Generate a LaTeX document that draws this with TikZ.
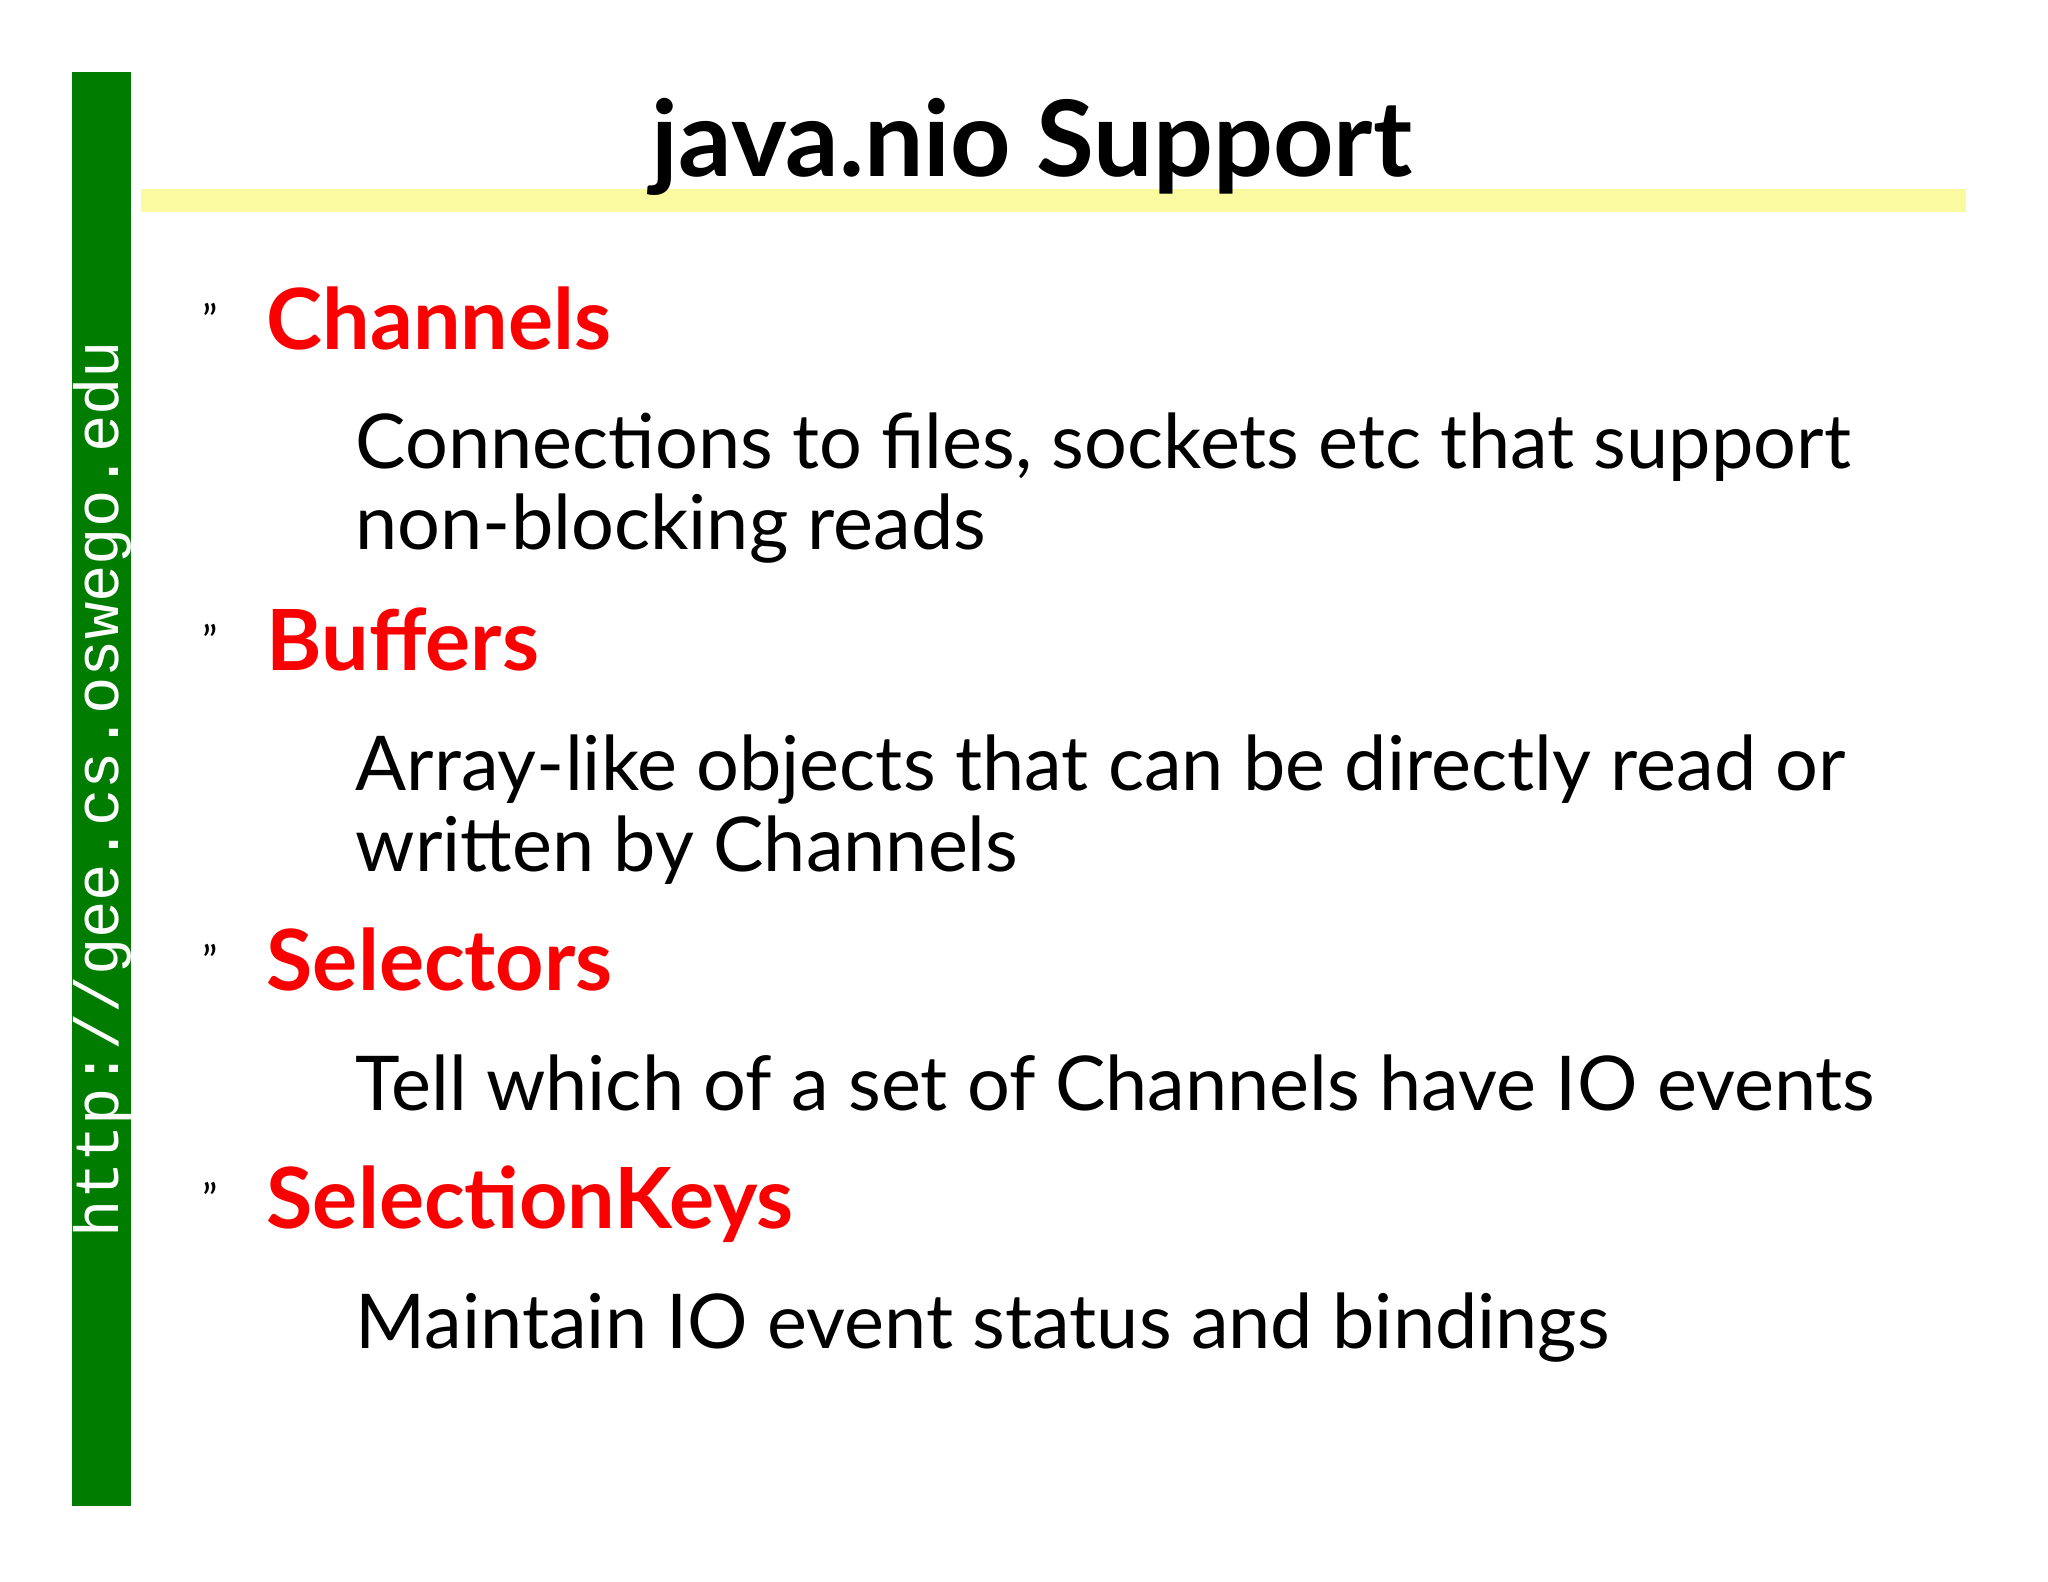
\documentclass[tikz,border=0pt]{standalone}
\usepackage{fontspec}
\setmainfont{Lato}
\newfontfamily\urlfont{Liberation Mono}
\definecolor{bargreen}{RGB}{0,125,0}
\definecolor{hlyellow}{RGB}{250,250,160}
\definecolor{headred}{RGB}{250,0,0}
\begin{document}
\begin{tikzpicture}[x=0.01cm,y=-0.01cm,
  head/.style={anchor=base west,inner sep=0,text=headred,font=\fontsize{24}{28}\selectfont\bfseries},
  body/.style={anchor=base west,inner sep=0,align=left,font=\fontsize{21.5}{29}\selectfont},
  bul/.style={anchor=base west,inner sep=0,font=\fontsize{12}{14}\selectfont}]
\useasboundingbox (0,0) rectangle (2048,1582);
\fill[bargreen] (72,72) rectangle (131,1506);
\fill[hlyellow] (141,189) rectangle (1966,212);
\node[rotate=90,text=white,inner sep=0,font=\urlfont\fontsize{17.7}{20}\selectfont] (url) at (102,789) {http://gee.cs.oswego.edu};
\node[anchor=base,inner sep=0,font=\fontsize{30}{34}\selectfont\bfseries] (title) at (1032,176) {java.nio Support};
\foreach \n/\y/\t in {b1/350/Channels,b2/670/Buffers,b3/990/Selectors,b4/1228/SelectionKeys}{
  \node[bul] (\n m) at (202,\y-14) {"};
  \node[head] (\n) at (266,\y) {\t};
}
\node[body] (t1a) at (355,468) {Connections to files, sockets etc that support};
\node[body] (t1b) at (355,549) {non-blocking reads};
\node[body] (t2a) at (355,790) {Array-like objects that can be directly read or};
\node[body] (t2b) at (355,871) {written by Channels};
\node[body] (t3) at (355,1110) {Tell which of a set of Channels have IO events};
\node[body] (t4) at (355,1348) {Maintain IO event status and bindings};
\end{tikzpicture}
\end{document}
